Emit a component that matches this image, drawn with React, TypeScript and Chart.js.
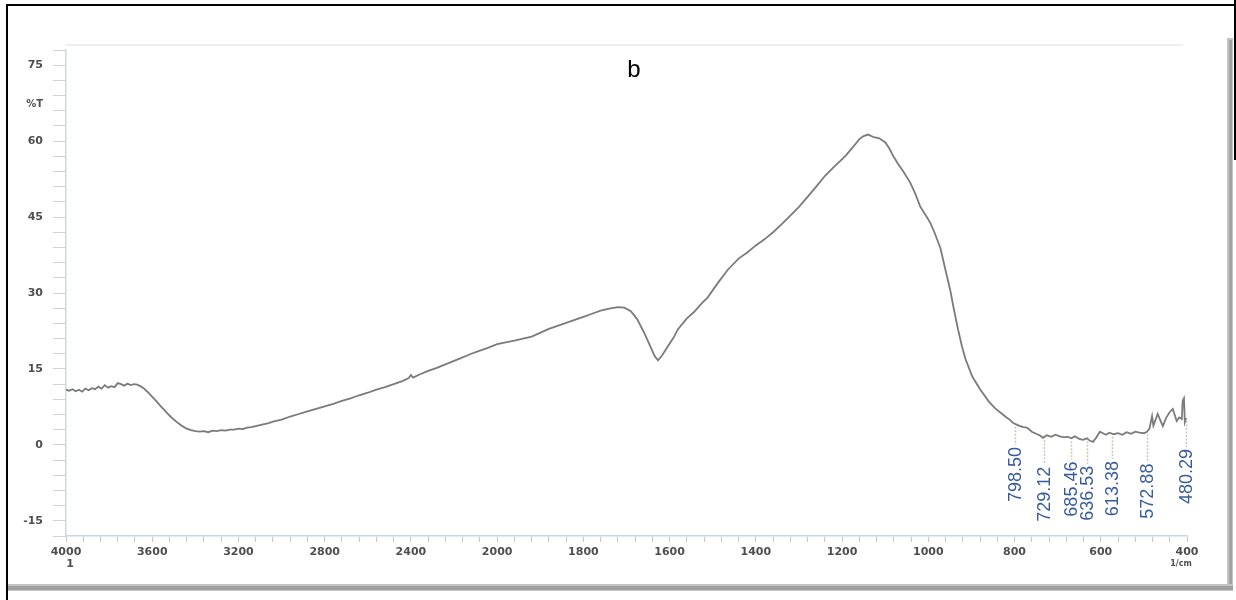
import React, { useEffect, useRef } from "react";
import { Chart, registerables } from "chart.js";

Chart.register(...registerables);

// ---- data ----
const wavenumbers = [
  4000, 3985, 3970, 3955, 3940, 3925, 3910, 3895, 3880, 3865, 3850, 3835, 3820, 3805, 3790, 3775,
  3760, 3745, 3730, 3715, 3700, 3685, 3670, 3655, 3640, 3620, 3600, 3580, 3560, 3540, 3520, 3500,
  3480, 3460, 3440, 3420, 3400, 3380, 3360, 3340, 3320, 3300, 3280, 3260, 3240, 3220, 3200, 3180,
  3160, 3140, 3120, 3100, 3080, 3060, 3040, 3020, 3000, 2960, 2920, 2880, 2840, 2800, 2760, 2720,
  2680, 2640, 2600, 2560, 2520, 2480, 2440, 2410, 2400, 2390, 2360, 2320, 2280, 2240, 2200, 2160,
  2120, 2080, 2040, 2000, 1960, 1920, 1880, 1840, 1800, 1780, 1760, 1740, 1720, 1705, 1690, 1675,
  1660, 1645, 1635, 1627, 1618, 1604, 1590, 1581, 1560, 1544, 1525, 1512, 1488, 1465, 1440, 1420,
  1400, 1380, 1360, 1340, 1320, 1300, 1280, 1260, 1240, 1220, 1204, 1190, 1174, 1160, 1150, 1140,
  1127, 1115, 1100, 1090, 1081, 1070, 1058, 1042, 1030, 1019, 1005, 995, 985, 972, 960, 949,
  940, 931, 922, 914, 898, 880, 860, 845, 833, 820, 810, 803, 790, 780, 771, 760,
  750, 740, 734, 725, 715, 705, 695, 685, 678, 668, 660, 650, 641, 632, 625, 618,
  610, 602, 595, 588, 580, 570, 560, 550, 540, 530, 520, 510, 500, 493, 487, 481,
  478, 475, 468, 462, 456, 448, 440, 433, 428, 424, 418, 412, 410, 407, 405, 402,
];
const transmittance = [
  10.9, 10.7, 11.0, 10.6, 10.9, 10.5, 11.1, 10.8, 11.2, 11.0, 11.5, 11.1, 11.8, 11.3, 11.6, 11.4,
  12.2, 12.0, 11.7, 12.1, 11.8, 12.0, 11.9, 11.6, 11.2, 10.4, 9.5, 8.6, 7.6, 6.7, 5.8, 5.0,
  4.3, 3.7, 3.2, 2.9, 2.7, 2.6, 2.7, 2.5, 2.8, 2.7, 2.9, 2.8, 3.0, 3.0, 3.2, 3.1,
  3.4, 3.5, 3.7, 3.9, 4.1, 4.3, 4.6, 4.8, 5.0, 5.6, 6.1, 6.6, 7.1, 7.6, 8.1, 8.7,
  9.2, 9.8, 10.3, 10.9, 11.4, 12.0, 12.6, 13.2, 13.8, 13.3, 13.9, 14.6, 15.2, 15.9, 16.6, 17.3,
  18.0, 18.6, 19.2, 19.9, 20.6, 21.4, 22.9, 24.1, 25.3, 25.9, 26.5, 26.9, 27.2, 27.1, 26.4, 24.8,
  22.3, 19.5, 17.6, 16.7, 17.6, 19.5, 21.3, 22.8, 25.0, 26.2, 28.0, 29.1, 32.0, 34.6, 36.8, 38.0,
  39.4, 40.6, 42.0, 43.6, 45.3, 47.0, 49.0, 51.0, 53.1, 54.8, 56.1, 57.3, 58.9, 60.4, 61.0, 61.3,
  60.8, 60.6, 59.8, 58.5, 57.0, 55.5, 54.0, 51.8, 49.6, 47.1, 45.2, 43.8, 41.8, 38.9, 34.5, 30.5,
  26.5, 22.8, 19.5, 17.0, 13.5, 11.0, 8.6, 7.2, 6.4, 5.5, 4.9, 4.3, 3.8, 3.5, 3.4, 2.6,
  2.2, 1.8, 1.4, 1.9, 1.6, 2.0, 1.7, 1.5, 1.6, 1.3, 1.7, 1.2, 1.0, 1.3, 0.8, 0.6,
  1.5, 2.6, 2.3, 2.0, 2.4, 2.1, 2.3, 2.0, 2.5, 2.2, 2.6, 2.4, 2.3, 2.6, 3.2, 5.7,
  3.8, 4.5, 6.1, 4.9, 3.7, 5.4, 6.5, 7.1, 5.8, 4.7, 5.4, 5.1, 8.7, 9.2, 4.5, 5.3,
];

const xTickLabels = [4000, 3600, 3200, 2800, 2400, 2000, 1800, 1600, 1400, 1200, 1000, 800, 600, 400];
const yTickLabels = [-15, 0, 15, 30, 45, 60, 75];

const peakLabels = ["798.50", "729.12", "685.46", "636.53", "613.38", "572.88", "480.29"];
// where the instrument software placed each label along the axis (cm-1), and the %T at the label's upper end
const peakLabelAnchors = [800, 731, 668, 632, 574, 492, 402];
const peakLabelTops = [-0.4, -4.3, -3.3, -4.1, -3.2, -3.7, -0.8];

const titleText = "b";
const yUnitText = "%T";
const xUnitText = "1/cm";

// the spectrometer axis doubles its scale below 2000 cm-1
const BREAK = 2000;
const toPos = (w: number) => (w >= BREAK ? (4000 - w) / 2 : 1000 + (BREAK - w));
const fromPos = (p: number) => (p <= 1000 ? 4000 - 2 * p : BREAK - (p - 1000));

function curveAt(w: number): number {
  for (let i = 0; i < wavenumbers.length - 1; i++) {
    const a = wavenumbers[i], b = wavenumbers[i + 1];
    if (w <= a && w >= b) {
      const t = (a - w) / (a - b);
      return transmittance[i] + t * (transmittance[i + 1] - transmittance[i]);
    }
  }
  return transmittance[transmittance.length - 1];
}

const framePlugin = {
  id: "frame",
  beforeDraw(chart: any) {
    const ctx = chart.ctx as CanvasRenderingContext2D;
    ctx.save();
    ctx.fillStyle = "#ffffff";
    ctx.fillRect(0, 0, chart.width, chart.height);
    // faint top edge of the scanned picture
    ctx.fillStyle = "#efefef";
    ctx.fillRect(66, 44, 1117, 2);
    // right and bottom shadow of the picture
    ctx.fillStyle = "#c4c4c4";
    ctx.fillRect(1227, 38, 6, 552);
    ctx.fillStyle = "#a2a2a2";
    ctx.fillRect(1229, 40, 3, 548);
    ctx.fillStyle = "#c4c4c4";
    ctx.fillRect(8, 584, 1225, 7);
    ctx.fillStyle = "#a0a0a0";
    ctx.fillRect(8, 586, 1225, 4);
    // black table-cell borders
    ctx.fillStyle = "#000000";
    ctx.fillRect(6, 4, 1230, 2);
    ctx.fillRect(6, 4, 2, 596);
    ctx.fillRect(1234, 0, 2, 160);
    ctx.restore();
  },
  afterDraw(chart: any) {
    const ctx = chart.ctx as CanvasRenderingContext2D;
    const xs = chart.scales.x;
    const ys = chart.scales.y;
    ctx.save();
    // title
    ctx.fillStyle = "#000000";
    ctx.font = "24px 'Liberation Sans', Arial, sans-serif";
    ctx.textAlign = "center";
    ctx.textBaseline = "alphabetic";
    ctx.fillText(titleText, 634, 77);
    // axis units
    ctx.fillStyle = "#505050";
    ctx.font = "bold 10px 'DejaVu Sans', sans-serif";
    ctx.textAlign = "right";
    ctx.textBaseline = "middle";
    ctx.fillText(yUnitText, 43, 104);
    ctx.textAlign = "center";
    ctx.font = "bold 11px 'DejaVu Sans', sans-serif";
    ctx.fillText("1", xs.getPixelForValue(toPos(4000)) + 4, 564);
    ctx.font = "bold 8px 'DejaVu Sans', sans-serif";
    ctx.fillText(xUnitText, xs.getPixelForValue(toPos(400)) - 6, 564);
    // peak labels
    for (let i = 0; i < peakLabels.length; i++) {
      const x = Math.round(xs.getPixelForValue(toPos(peakLabelAnchors[i]))) + 0.5;
      const yTop = ys.getPixelForValue(peakLabelTops[i]);
      const yCurve = ys.getPixelForValue(curveAt(peakLabelAnchors[i]));
      ctx.strokeStyle = "#cdc6b4";
      ctx.lineWidth = 1.5;
      ctx.setLineDash([2, 1.5]);
      ctx.beginPath();
      ctx.moveTo(x, yCurve + 3);
      ctx.lineTo(x, yTop - 2);
      ctx.stroke();
      ctx.setLineDash([]);
      ctx.save();
      ctx.translate(x + 1, yTop);
      ctx.rotate(-Math.PI / 2);
      ctx.fillStyle = "#385b9b";
      ctx.font = "18px 'Liberation Sans', Arial, sans-serif";
      ctx.textAlign = "right";
      ctx.textBaseline = "middle";
      ctx.fillText(peakLabels[i], 0, 0);
      ctx.restore();
    }
    ctx.restore();
  },
};

export default function App() {
  const ref = useRef<HTMLCanvasElement | null>(null);
  useEffect(() => {
    if (!ref.current) return;
    const points = wavenumbers.map((w, i) => ({ x: toPos(w), y: transmittance[i] }));
    const chart = new Chart(ref.current, {
      type: "line",
      data: {
        datasets: [
          {
            data: points,
            borderColor: "#7b7b7b",
            borderWidth: 1.8,
            pointRadius: 0,
            tension: 0,
            fill: false,
          },
        ],
      },
      options: {
        animation: false,
        responsive: false,
        events: [],
        layout: { padding: { left: 0, top: 50, right: 49, bottom: 0 } },
        plugins: {
          legend: { display: false },
          tooltip: { enabled: false },
          title: { display: false },
        },
        scales: {
          x: {
            type: "linear",
            min: 0,
            max: toPos(400),
            afterBuildTicks: (scale: any) => {
              const t = [];
              for (let p = 0; p <= toPos(400); p += 40) t.push({ value: p });
              scale.ticks = t;
            },
            afterFit: (scale: any) => {
              scale.height = 64;
            },
            grid: { drawOnChartArea: false, tickLength: 6, color: "#c6c6c6", lineWidth: 1 },
            border: { color: "#ccd8e0", width: 1.5 },
            ticks: {
              autoSkip: false,
              maxRotation: 0,
              padding: 4,
              color: "#4e4e4e",
              font: { family: "'DejaVu Sans', sans-serif", size: 11, weight: "bold" },
              callback: (v: any) => {
                const w = Math.round(fromPos(Number(v)));
                return xTickLabels.includes(w) ? String(w) : "";
              },
            },
          },
          y: {
            type: "linear",
            min: -18,
            max: 78,
            afterBuildTicks: (scale: any) => {
              const t = [];
              for (let v = -18; v <= 78; v += 3) t.push({ value: v });
              scale.ticks = t;
            },
            afterFit: (scale: any) => {
              scale.width = 66;
            },
            grid: { drawOnChartArea: false, tickLength: 13, color: "#d2d2d2", lineWidth: 1 },
            border: { color: "#ccd8e0", width: 1.5 },
            ticks: {
              autoSkip: false,
              padding: 10,
              color: "#4e4e4e",
              font: { family: "'DejaVu Sans', sans-serif", size: 11, weight: "bold" },
              callback: (v: any) => (yTickLabels.includes(Number(v)) ? String(v) : ""),
            },
          },
        },
      },
      plugins: [framePlugin],
    });
    return () => chart.destroy();
  }, []);
  return (
    <div style={{ position: "absolute", left: 0, top: 0, width: 1236, height: 600, background: "#fff" }}>
      <canvas ref={ref} width={1236} height={600} style={{ display: "block" }} />
    </div>
  );
}
